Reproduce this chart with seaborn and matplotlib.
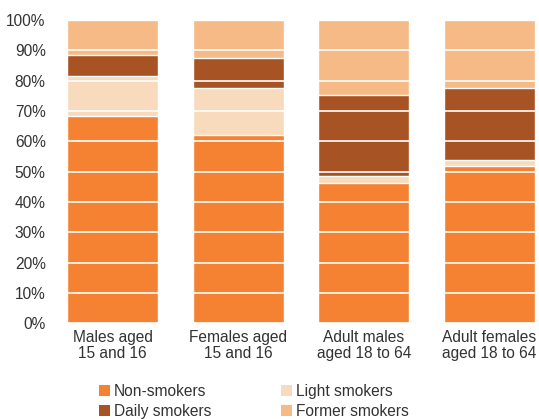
import matplotlib
matplotlib.use("Agg")
import matplotlib.pyplot as plt
import seaborn as sns
import pandas as pd
import numpy as np
from matplotlib.patches import Patch

categories = ["Males aged\n15 and 16", "Females aged\n15 and 16",
              "Adult males\naged 18 to 64", "Adult females\naged 18 to 64"]
non_smokers = [68.4, 62.2, 46.4, 52.0]
light_smokers = [13.2, 15.4, 2.3, 1.9]
daily_smokers = [6.9, 9.9, 26.6, 23.7]
former_smokers = [11.5, 12.5, 24.7, 22.4]

series_names = ["Non-smokers", "Light smokers", "Daily smokers", "Former smokers"]
colors = ["#F58233", "#F8DABD", "#A85324", "#F5BA85"]

sns.set_theme(style="white")
plt.rcParams['font.family'] = ['Liberation Sans', 'DejaVu Sans']

df = pd.DataFrame({
    "cat": categories,
    "Non-smokers": non_smokers,
    "Light smokers": light_smokers,
    "Daily smokers": daily_smokers,
    "Former smokers": former_smokers,
})
cum = df[series_names].cumsum(axis=1)

FS = 11.2
fig = plt.figure(figsize=(5.39, 4.19), dpi=100)
W, H = 539, 419
ax = fig.add_axes([60 / W, (H - 323.3) / H, (539 - 60) / W, 303.3 / H])

for name, col in reversed(list(zip(series_names, colors))):
    sns.barplot(x=df["cat"], y=cum[name], color=col, width=0.725,
                saturation=1, ax=ax, order=categories)

ax.set_xlim(-0.418, 3.394)
ax.set_ylim(0, 100)
ax.set_yticks(np.arange(0, 101, 10))
ax.set_yticklabels([f"{v}%" for v in range(0, 101, 10)])
ax.set_xlabel("")
ax.set_ylabel("")
for s in ax.spines.values():
    s.set_visible(False)
ax.set_axisbelow(False)
ax.yaxis.grid(True, color="white", linewidth=1.2)
ax.xaxis.grid(False)
ax.tick_params(axis="both", length=0, labelsize=FS, colors="#333333")
ax.tick_params(axis="y", pad=10.3)
ax.tick_params(axis="x", pad=4.5)
for lbl in ax.get_xticklabels():
    lbl.set_linespacing(1.1)

order = [0, 2, 1, 3]
handles = [Patch(facecolor=colors[i], edgecolor="none") for i in order]
labels = [series_names[i] for i in order]
fig.legend(handles, labels, ncol=2, loc="upper left",
           bbox_to_anchor=(99 / W, 1 - 384 / H), frameon=False,
           fontsize=FS, handlelength=0.7, handleheight=0.7,
           handletextpad=0.25, columnspacing=4.5, labelspacing=0.3,
           borderaxespad=0, borderpad=0, labelcolor="#333333")

fig.savefig("out.png", dpi=100)
